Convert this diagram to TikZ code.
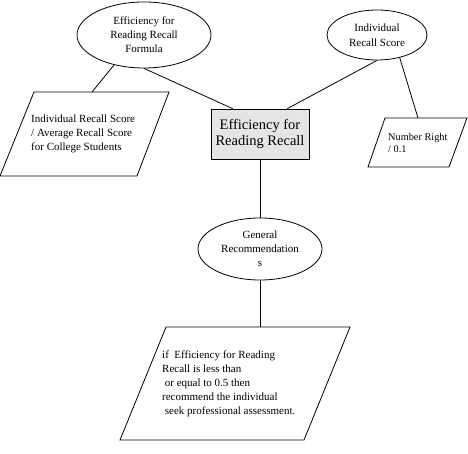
\documentclass[tikz,border=0pt]{standalone}
\usepackage{fontspec}
\setmainfont{Liberation Serif}
\usetikzlibrary{shapes.geometric}
\begin{document}
\begin{tikzpicture}[x=1pt,y=-1pt,
  oval/.style={draw,ellipse,inner sep=0pt,align=center,line width=0.8pt,font=\fontsize{11}{14}\selectfont},
  para/.style={draw,line width=0.8pt},
  txt/.style={inner sep=0pt,align=left,anchor=west,font=\fontsize{11}{14}\selectfont},
  conn/.style={draw,line width=0.8pt}]
\useasboundingbox (0,0) rectangle (468,454);
% nodes
\node[oval,minimum width=134pt,minimum height=66pt] (e1) at (144,35) {Efficiency for\\Reading Recall\\Formula};
\node[oval,minimum width=100pt,minimum height=50pt,font=\fontsize{11}{15}\selectfont] (e2) at (377,35) {Individual\\Recall Score};
\node[draw,line width=0.8pt,fill=black!10,inner sep=0pt,minimum width=98pt,minimum height=50pt,align=center,font=\fontsize{14.5}{16.5}\selectfont] (box) at (260,134) {Efficiency for\\Reading Recall};
\node[oval,minimum width=124pt,minimum height=62pt] (e3) at (260,249) {General\\Recommendation\\s};
% parallelograms
\draw[para] (34,92) coordinate (p1tl) -- (169,92) coordinate (p1tr) -- (137,176) coordinate (p1br) -- (0,176) coordinate (p1bl) -- cycle;
\coordinate (p1top) at (92,92);
\node[txt] (t1) at (31,134) {Individual Recall Score\\/ Average Recall Score\\for College Students};
\draw[para] (385,118) coordinate (p2tl) -- (467,118) coordinate (p2tr) -- (449,167) coordinate (p2br) -- (368,167) coordinate (p2bl) -- cycle;
\coordinate (p2top) at (418,118);
\node[txt,font=\fontsize{10.3}{12.5}\selectfont] (t2) at (388,143) {Number Right\\/ 0.1};
\draw[para] (166,327) coordinate (p3tl) -- (350,327) coordinate (p3tr) -- (304,440) coordinate (p3br) -- (120,440) coordinate (p3bl) -- cycle;
\coordinate (p3top) at (260,327);
\node[txt] (t3) at (162,384) {if\ \ Efficiency for Reading\\Recall is less than\\\hspace*{2.7pt}or equal to 0.5 then\\recommend the individual\\\hspace*{2.7pt}seek professional assessment.};
% connectors
\draw[conn] (e1.225) -- (p1top);
\draw[conn] (e1.south) -- ([xshift=22pt]box.north west);
\draw[conn] (e2.south) -- ([xshift=-22pt]box.north east);
\draw[conn] (e2.-45) -- (p2top);
\draw[conn] (box.south) -- (e3.north);
\draw[conn] (e3.south) -- (p3top);
\end{tikzpicture}
\end{document}
